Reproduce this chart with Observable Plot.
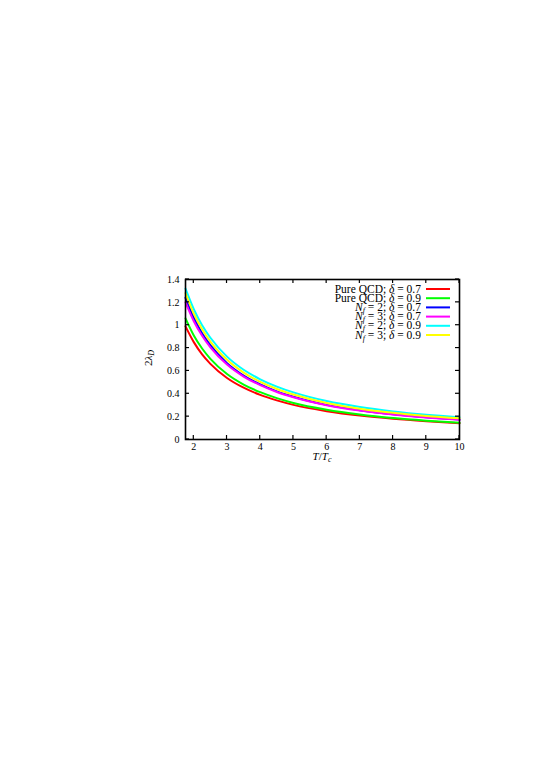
<!DOCTYPE html>
<html><head><meta charset="utf-8">
<script src="https://cdn.jsdelivr.net/npm/d3@7"></script>
<script src="https://cdn.jsdelivr.net/npm/@observablehq/plot@0.6"></script>
<style>body{margin:0;background:#fff}</style>
</head><body><div id="chart"></div>
<script>
// T / Tc sample points
const T = [1.75, 2, 2.25, 2.5, 3, 3.5, 4, 4.5, 5, 6, 7, 8, 9, 10];
// 2 lambda_D values
const pureQCD07 = [0.99, 0.852, 0.745, 0.662, 0.538, 0.453, 0.39, 0.342, 0.303, 0.248, 0.209, 0.181, 0.16, 0.143];
const pureQCD09 = [1.06, 0.91, 0.796, 0.706, 0.573, 0.481, 0.414, 0.362, 0.32, 0.261, 0.219, 0.188, 0.165, 0.146];
const nf2d07    = [1.24, 1.065, 0.93, 0.825, 0.668, 0.56, 0.482, 0.421, 0.374, 0.303, 0.256, 0.221, 0.194, 0.174];
const nf3d07    = [1.20, 1.035, 0.908, 0.807, 0.656, 0.551, 0.475, 0.416, 0.370, 0.30, 0.253, 0.218, 0.192, 0.172];
const nf2d09    = [1.32, 1.14, 1.00, 0.89, 0.725, 0.61, 0.527, 0.463, 0.412, 0.336, 0.284, 0.246, 0.217, 0.195];
const nf3d09    = [1.28, 1.10, 0.965, 0.857, 0.697, 0.585, 0.504, 0.442, 0.394, 0.32, 0.27, 0.234, 0.206, 0.185];

const seriesKeys = ["pq07", "pq09", "n207", "n307", "n209", "n309"];
const seriesValues = [pureQCD07, pureQCD09, nf2d07, nf3d07, nf2d09, nf3d09];
const seriesColors = ["#ff0000", "#00ff00", "#0000ff", "#ff00ff", "#00ffff", "#ffff00"];
const legendNf = [null, null, "2", "3", "2", "3"];
const legendDelta = ["0.7", "0.9", "0.7", "0.7", "0.9", "0.9"];

const xTicks = [2, 3, 4, 5, 6, 7, 8, 9, 10];
const yTicks = [0, 0.2, 0.4, 0.6, 0.8, 1, 1.2, 1.4];

const rows = [];
seriesKeys.forEach((k, i) => T.forEach((t, j) => rows.push({series: k, T: t, v: seriesValues[i][j]})));

const chart = Plot.plot({
  width: 545, height: 771,
  marginLeft: 185, marginRight: 86, marginTop: 279, marginBottom: 332,
  style: {fontFamily: "'Liberation Serif', serif", fontSize: "10px", background: "white", color: "black"},
  x: {domain: [1.75, 10]},
  y: {domain: [0, 1.4]},
  color: {domain: seriesKeys, range: seriesColors},
  marks: [
    Plot.lineY(rows, {x: "T", y: "v", z: "series", stroke: "series", strokeWidth: 2, curve: "monotone-x"}),
    Plot.axisX({ticks: xTicks, tickSize: 0, tickPadding: 3, label: null}),
    Plot.axisY({ticks: yTicks, tickSize: 0, tickPadding: 6, label: null, tickFormat: d => String(+d.toFixed(1))}),
    Plot.frame({stroke: "black", strokeWidth: 1.6})
  ]
});
document.getElementById("chart").appendChild(chart);

const sx = chart.scale("x"), sy = chart.scale("y");
const svg = d3.select(chart);
const x0 = sx.apply(1.75), x1 = sx.apply(10), y0 = sy.apply(0), y1 = sy.apply(1.4);
const g = svg.append("g").attr("stroke", "black").attr("stroke-width", 1.2);
xTicks.forEach(t => {
  const px = sx.apply(t);
  g.append("line").attr("x1", px).attr("x2", px).attr("y1", y0).attr("y2", y0 - 4);
  g.append("line").attr("x1", px).attr("x2", px).attr("y1", y1).attr("y2", y1 + 4);
});
yTicks.forEach(t => {
  const py = sy.apply(t);
  g.append("line").attr("y1", py).attr("y2", py).attr("x1", x0).attr("x2", x0 + 4);
  g.append("line").attr("y1", py).attr("y2", py).attr("x1", x1).attr("x2", x1 - 4);
});

const font = "'Liberation Serif', serif";
// y label
const yl = svg.append("text").attr("font-family", font).attr("font-size", 11)
  .attr("text-anchor", "middle")
  .attr("transform", `translate(${x0 - 33},${(y0 + y1) / 2 - 1}) rotate(-90)`);
yl.append("tspan").text("2");
yl.append("tspan").attr("font-style", "italic").text("λ");
yl.append("tspan").attr("font-style", "italic").attr("font-size", 8).attr("dy", 2).text("D");
// x label
const xl = svg.append("text").attr("font-family", font).attr("font-size", 11)
  .attr("text-anchor", "middle").attr("x", (x0 + x1) / 2).attr("y", y0 + 21);
xl.append("tspan").attr("font-style", "italic").text("T");
xl.append("tspan").text("/");
xl.append("tspan").attr("font-style", "italic").text("T");
xl.append("tspan").attr("font-style", "italic").attr("font-size", 8).attr("dy", 2).text("c");

// legend
const lg = svg.append("g");
seriesKeys.forEach((k, i) => {
  const ly = y1 + 10 + i * 9.2;
  const t = lg.append("text").attr("font-family", font).attr("font-size", 11.5)
    .attr("text-anchor", "end").attr("x", x1 - 38).attr("y", ly + 3.5);
  if (legendNf[i] === null) {
    t.append("tspan").text("Pure QCD; ");
  } else {
    t.append("tspan").attr("font-style", "italic").text("N");
    t.append("tspan").attr("font-style", "italic").attr("font-size", 8).attr("dy", 2).text("f");
    t.append("tspan").attr("dy", -2).text(" = " + legendNf[i] + "; ");
  }
  t.append("tspan").attr("font-style", "italic").text("δ");
  t.append("tspan").text(" = " + legendDelta[i]);
  lg.append("line").attr("x1", x1 - 33).attr("x2", x1 - 9).attr("y1", ly).attr("y2", ly)
    .attr("stroke", seriesColors[i]).attr("stroke-width", 2);
});
</script>
</body></html>
